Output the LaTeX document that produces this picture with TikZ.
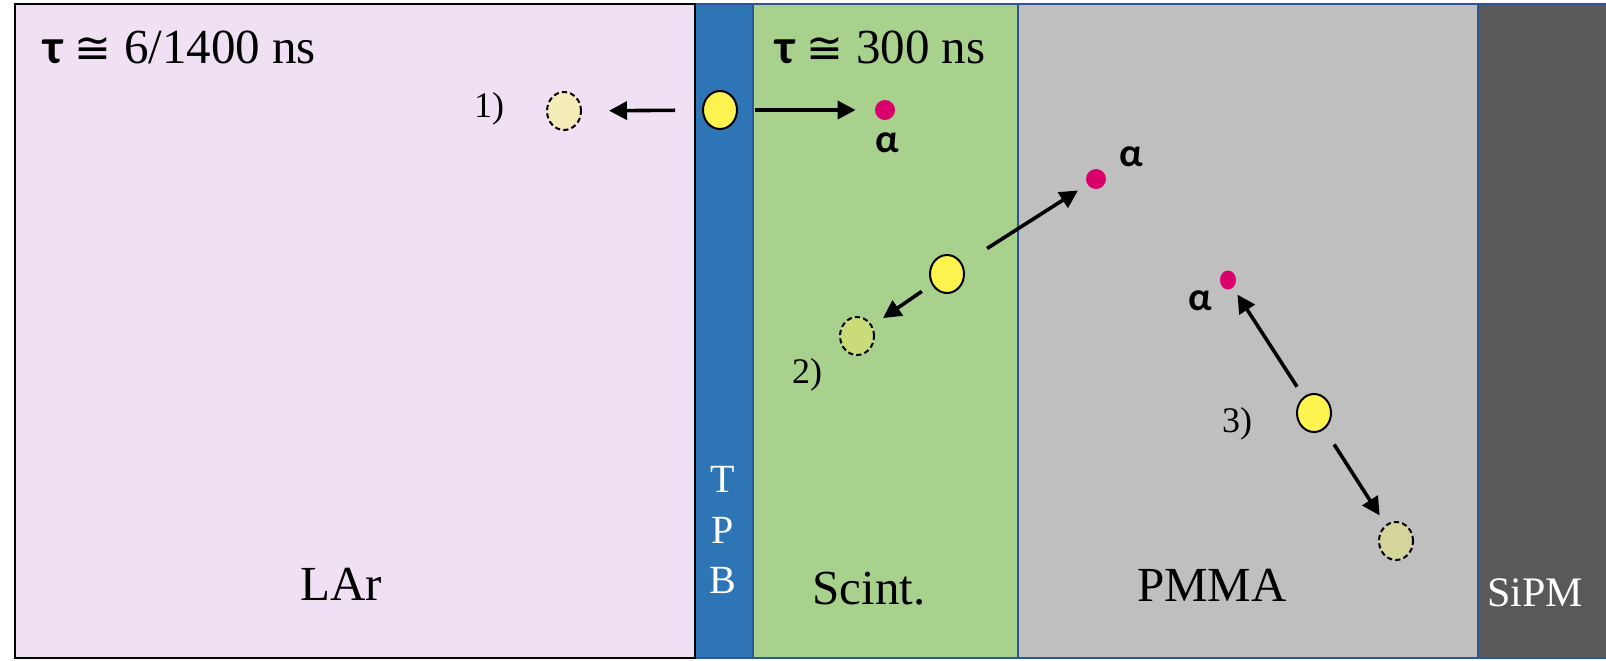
\documentclass[tikz,border=0pt]{standalone}
\usepackage{fontspec}
\setmainfont{Liberation Serif}
\newfontfamily\calb{Carlito}
\newfontfamily\dvs{DejaVu Sans}
\usetikzlibrary{arrows.meta,shapes.geometric}
\definecolor{larc}{HTML}{EFE1F3}
\definecolor{tpbc}{HTML}{2E75B6}
\definecolor{scic}{HTML}{A9D18E}
\definecolor{pmmac}{HTML}{BFBFBF}
\definecolor{sipmc}{HTML}{595959}
\definecolor{edgeb}{HTML}{2F5597}
\definecolor{ylw}{HTML}{FFF350}
\definecolor{mag}{HTML}{D9006C}
\definecolor{gh1}{HTML}{F5EBB7}
\definecolor{gh2}{HTML}{C9DC79}
\definecolor{gh3}{HTML}{D5D49A}
\tikzset{
  panel/.style={draw=edgeb, line width=0.75pt},
  photon/.style={ellipse, draw=black, line width=1pt, fill=ylw, minimum width=17pt, minimum height=19pt, inner sep=0pt},
  ghost/.style={photon, dash pattern=on 2.6pt off 1.6pt},
  adot/.style={circle, fill=mag, minimum size=10pt, inner sep=0pt},
  arr/.style={line width=1.8pt, -{Triangle[length=9pt,width=9pt]}},
  big/.style={font=\fontsize{24.5}{28}\selectfont, inner sep=0pt},
  num/.style={font=\fontsize{18}{22}\selectfont, inner sep=0pt},
  alab/.style={font=\fontsize{20}{24}\selectfont\calb\bfseries, inner sep=0pt},
  wlab/.style={text=white, inner sep=0pt},
}
\begin{document}
\begin{tikzpicture}[x=0.5pt,y=-0.5pt]
\useasboundingbox (0,0) rectangle (1606,660);
\fill[white] (0,0) rectangle (1606,660);
% panels
\fill[larc] (15,4) rectangle (695,658);
\filldraw[panel, fill=tpbc] (695,4) rectangle (753,658);
\filldraw[panel, fill=scic] (753,4) rectangle (1018,658);
\filldraw[panel, fill=pmmac] (1018,4) rectangle (1478,658);
\filldraw[panel, fill=sipmc] (1478,4) rectangle (1610,658);
\draw[black, line width=1.25pt] (15,4) rectangle (695,658);
% titles
\node[big, anchor=base west] (t1) at (43,63) {{\calb\bfseries τ} {\dvs\fontsize{22}{26}\selectfont ≅} 6/1400 ns};
\node[big, anchor=base west] (t2) at (775,63) {{\calb\bfseries τ} {\dvs\fontsize{22}{26}\selectfont ≅} 300 ns};
% region labels
\node[big, anchor=base] (lar) at (341,600) {LAr};
\node[big, anchor=base] (sci) at (869,604) {Scint.};
\node[big, anchor=base] (pmma) at (1212,601) {PMMA};
\node[wlab, font=\fontsize{21}{25}\selectfont, anchor=base] (sipm) at (1535,606) {SiPM};
\node[wlab, font=\fontsize{20}{24}\selectfont, anchor=base] (tT) at (723,492) {T};
\node[wlab, font=\fontsize{20}{24}\selectfont, anchor=base] (tP) at (723,543) {P};
\node[wlab, font=\fontsize{20}{24}\selectfont, anchor=base] (tB) at (723,593) {B};
% case 1
\node[photon] (y1) at (720,110) {};
\node[ghost, fill=gh1] (g1) at (564,111) {};
\node[adot] (d1) at (885,110) {};
\node[alab, anchor=base] (a1) at (887,152) {α};
\node[num, anchor=base] (n1) at (489,117) {1)};
\draw[arr, shorten <=13.5pt, shorten >=13.5pt] (y1) -- (g1);
\draw[arr, shorten <=8.5pt, shorten >=9.5pt] (y1) -- (d1);
% case 2
\node[photon] (y2) at (947,274) {};
\node[ghost, fill=gh2] (g2) at (857,336) {};
\node[adot] (d2) at (1096,179) {};
\node[alab, anchor=base] (a2) at (1131,166) {α};
\node[num, anchor=base] (n2) at (807,383) {2)};
\draw[arr, shorten <=14.5pt, shorten >=5.5pt] (y2) -- (d2);
\draw[arr, shorten <=6pt, shorten >=6.5pt] (y2) -- (g2);
% case 3
\node[photon] (y3) at (1314,413) {};
\node[ghost, fill=gh3] (g3) at (1396,541) {};
\node[adot, minimum width=8pt, minimum height=9.5pt, ellipse] (d3) at (1228,280) {};
\node[alab, anchor=base] (a3) at (1200,310) {α};
\node[num, anchor=base] (n3) at (1237,432) {3)};
\draw[arr, shorten <=6pt, shorten >=4pt] (y3) -- (d3);
\draw[arr, shorten <=9pt, shorten >=5.5pt] (y3) -- (g3);
\end{tikzpicture}
\end{document}
